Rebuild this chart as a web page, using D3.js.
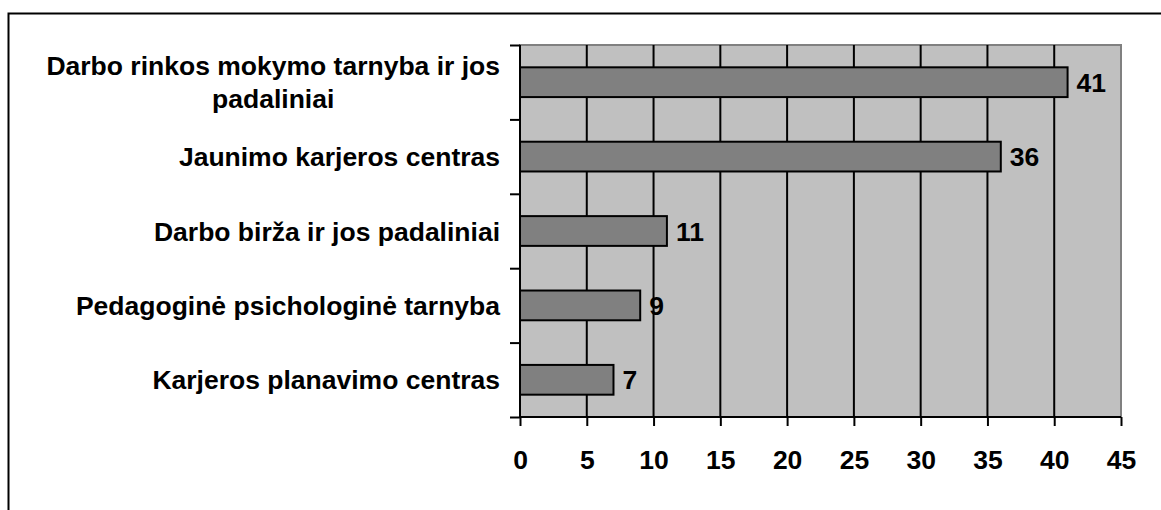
<!DOCTYPE html>
<html><head><meta charset="utf-8">
<script src="https://cdn.jsdelivr.net/npm/d3@7"></script>
<style>body{margin:0;background:#fff}svg{display:block}text{font-family:"Liberation Sans",Arial,sans-serif;font-weight:bold}</style>
</head><body>
<svg id="c" width="1161" height="510"></svg>
<script>
const categories = [
  ["Darbo rinkos mokymo tarnyba ir jos", "padaliniai"],
  ["Jaunimo karjeros centras"],
  ["Darbo birža ir jos padaliniai"],
  ["Pedagoginė psichologinė tarnyba"],
  ["Karjeros planavimo centras"]
];
const values = [41, 36, 11, 9, 7];
const xTicks = [0, 5, 10, 15, 20, 25, 30, 35, 40, 45];

const svg = d3.select("#c");
const L = 520, R = 1121, T = 45, B = 417;
const fs = 26.5;

svg.append("rect").attr("x", 8.5).attr("y", 13.5).attr("width", 1200).attr("height", 600)
  .attr("fill", "none").attr("stroke", "#000").attr("stroke-width", 2);

const x = d3.scaleLinear().domain([0, 45]).range([L, R]);
const y = d3.scaleBand().domain(d3.range(values.length)).range([T, B]).paddingInner(0.6).paddingOuter(0.3);
const yb = d3.scaleBand().domain(d3.range(values.length)).range([T, B]);

svg.append("rect").attr("x", L).attr("y", T).attr("width", R - L).attr("height", B - T)
  .attr("fill", "#c0c0c0").attr("stroke", "#808080").attr("stroke-width", 2);

// gridlines
svg.append("g").selectAll("line").data(xTicks.slice(1, -1)).join("line")
  .attr("x1", d => x(d)).attr("x2", d => x(d)).attr("y1", T).attr("y2", B)
  .attr("stroke", "#000").attr("stroke-width", 2);

// bars
svg.append("g").selectAll("rect").data(values).join("rect")
  .attr("x", L).attr("y", (d, i) => y(i)).attr("width", d => x(d) - L).attr("height", y.bandwidth())
  .attr("fill", "#808080").attr("stroke", "#000").attr("stroke-width", 2);

// value labels
svg.append("g").selectAll("text").data(values).join("text")
  .attr("x", d => x(d) + 9).attr("y", (d, i) => y(i) + y.bandwidth() / 2)
  .attr("dy", "0.36em").attr("font-size", fs).text(d => d);

// x axis
const xAxis = d3.axisBottom(x).tickValues(xTicks).tickSize(9).tickPadding(24);
const gx = svg.append("g").attr("transform", `translate(0,${B})`).call(xAxis);
gx.select(".domain").attr("stroke-width", 2).attr("d", `M${L},0H${R}`);
gx.selectAll(".tick line").attr("stroke-width", 2);
gx.selectAll(".tick text").attr("font-size", fs).attr("font-family", '"Liberation Sans",Arial,sans-serif').attr("fill", "#000");

// y axis
const yAxis = d3.axisLeft(d3.scaleLinear().domain([0, values.length]).range([T, B]))
  .tickValues(d3.range(values.length + 1)).tickSize(10).tickFormat("");
const gy = svg.append("g").attr("transform", `translate(${L},0)`).call(yAxis);
gy.select(".domain").attr("stroke-width", 2).attr("d", `M0,${T}V${B}`);
gy.selectAll(".tick line").attr("stroke-width", 2);

// category labels
const labelRight = 500, lineH = 33;
categories.forEach((lines, i) => {
  const cy = yb(i) + yb.bandwidth() / 2;
  const g = svg.append("g");
  const ts = lines.map((s, k) => g.append("text").attr("font-size", fs)
    .attr("y", cy + (k - (lines.length - 1) / 2) * lineH).attr("dy", "0.36em").text(s));
  const w = d3.max(ts, t => t.node().getComputedTextLength());
  const cx = labelRight - w / 2;
  ts.forEach(t => t.attr("x", cx).attr("text-anchor", "middle"));
});
</script>
</body></html>
